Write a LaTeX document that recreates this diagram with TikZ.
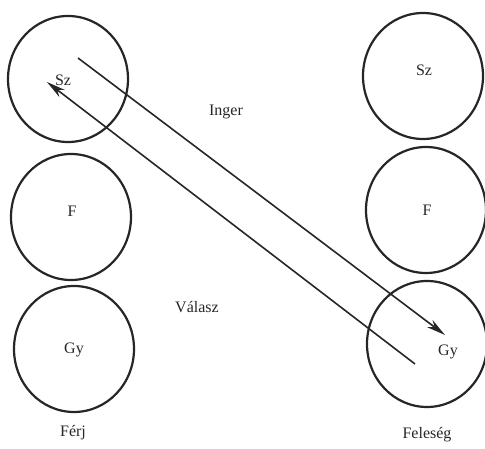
\documentclass[tikz,border=0pt]{standalone}
\usepackage{fontspec}
\setmainfont{Liberation Serif}
\usetikzlibrary{arrows.meta,shapes.geometric}
\begin{document}
\begin{tikzpicture}[x=1pt,y=-1pt,
  ring/.style={draw=black!85,line width=2.2pt,ellipse,minimum width=120pt,minimum height=126pt,inner sep=0pt},
  lbl/.style={font=\fontsize{16}{18}\selectfont,text=black!85,inner sep=0pt},
  msg/.style={draw=black!85,line width=1.6pt,-{Stealth[length=19pt,width=9pt,inset=6pt]}}]
\useasboundingbox (0,0) rectangle (485,449);
\node[ring] (lsz) at (68,79) {};
\node[ring] (lf) at (71,217) {};
\node[ring] (lgy) at (74,349) {};
\node[ring] (rsz) at (423,76) {};
\node[ring] (rf) at (426,210) {};
\node[ring] (rgy) at (427,344) {};
\node[lbl] (tlsz) at (63,80) {Sz};
\node[lbl] (tlf) at (72,211) {F};
\node[lbl] (tlgy) at (74,350) {Gy};
\node[lbl] (trsz) at (424,70) {Sz};
\node[lbl] (trf) at (427,210) {F};
\node[lbl] (trgy) at (448,352) {Gy};
\node[lbl] (inger) at (226,112) {Inger};
\node[lbl] (valasz) at (197,307) {Válasz};
\node[lbl] (ferj) at (73,433) {Férj};
\node[lbl] (feleseg) at (427,435) {Feleség};
\coordinate (is) at (78,58);
\coordinate (ie) at (445,335);
\coordinate (vs) at (415,364);
\coordinate (ve) at (47,82);
\draw[msg] (is) -- (ie);
\draw[msg] (vs) -- (ve);
\end{tikzpicture}
\end{document}
